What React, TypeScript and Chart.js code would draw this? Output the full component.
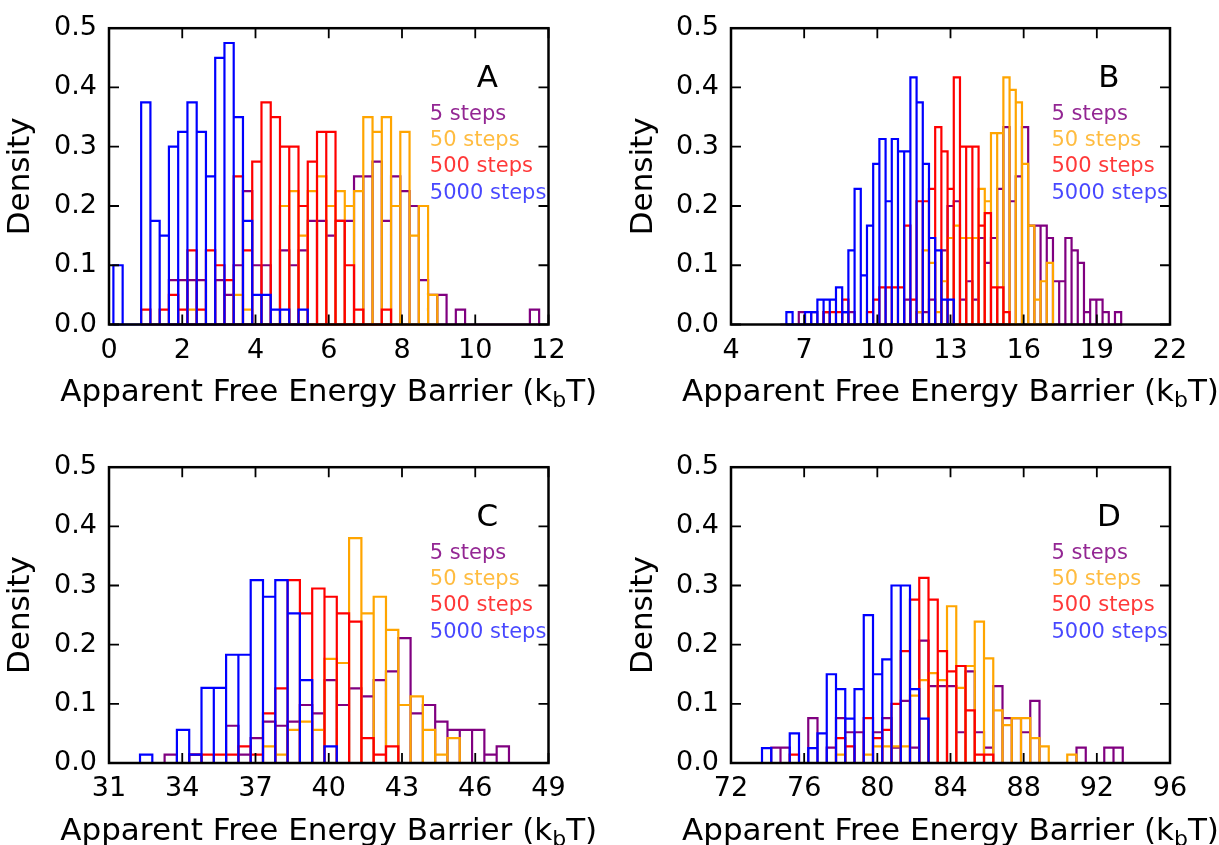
import React, { useEffect, useRef } from "react";
import { Chart, registerables } from "chart.js";

Chart.register(...registerables);

const FONT_FAMILY = "'DejaVu Sans', 'Bitstream Vera Sans', sans-serif";

const seriesNames = ["5 steps", "50 steps", "500 steps", "5000 steps"];
const seriesColors = ["#800080", "#FFA500", "#FF0000", "#0000FF"];
const legendTextColors = [
  "rgba(128,0,128,0.85)",
  "rgba(255,165,0,0.75)",
  "rgba(255,0,0,0.78)",
  "rgba(0,0,255,0.72)",
];

const yTickValues = [0, 0.1, 0.2, 0.3, 0.4, 0.5];
const xTitleMain = "Apparent Free Energy Barrier (k";
const xTitleSub = "b";
const xTitleEnd = "T)";
const yTitle = "Density";

// ---------- Panel A ----------
const panelAXTicks = [0, 2, 4, 6, 8, 10, 12];
const panelABinStart = 0.12;
const panelABinWidth = 0.2527;
const panelA5Offset = 6;
const panelA5 = [0.075, 0.075, 0.075, 0.075, 0, 0.075, 0.05, 0.1, 0.225, 0.1, 0.1, 0, 0.125, 0.1, 0.125, 0.175, 0.175, 0.15, 0.175, 0.175, 0.25, 0.25, 0.275, 0.175, 0.25, 0.225, 0.2, 0.075, 0.05, 0.05, 0, 0.025, 0, 0, 0, 0, 0, 0, 0, 0.025];
const panelA50Offset = 8;
const panelA50 = [0.025, 0, 0, 0, 0, 0.05, 0.025, 0, 0, 0, 0.2, 0.225, 0.15, 0.225, 0.25, 0.2, 0.225, 0.2, 0.225, 0.35, 0.325, 0.35, 0.2, 0.325, 0.15, 0.2, 0.05];
const panelA500Offset = 3;
const panelA500 = [0.025, 0, 0.025, 0.05, 0.025, 0.125, 0.025, 0.125, 0.1, 0.075, 0.25, 0.125, 0.275, 0.375, 0.35, 0.3, 0.3, 0.2, 0.275, 0.325, 0.325, 0.175, 0.1, 0.025, 0, 0, 0.025];
const panelA5000Offset = 0;
const panelA5000 = [0.1, 0, 0, 0.375, 0.175, 0.15, 0.3, 0.325, 0.375, 0.325, 0.25, 0.45, 0.475, 0.35, 0.175, 0.05, 0.05, 0.025, 0.025, 0, 0.025];

// ---------- Panel B ----------
const panelBXTicks = [4, 7, 10, 13, 16, 19, 22];
const panelBBinStart = 6.271;
const panelBBinWidth = 0.2542;
const panelB5Offset = -1;
const panelB5 = [0, 0, 0, 0.021, 0, 0.021, 0, 0.021, 0, 0, 0.021, 0.021, 0, 0, 0, 0, 0, 0, 0, 0, 0.042, 0, 0.021, 0.021, 0.042, 0, 0.125, 0.2, 0.208, 0.042, 0.073, 0.042, 0.146, 0.104, 0.146, 0.229, 0.333, 0.208, 0.25, 0.333, 0.167, 0.167, 0.167, 0.146, 0.073, 0.073, 0.146, 0.125, 0.104, 0.021, 0.042, 0.042, 0.021, 0, 0.021];
const panelB50Offset = 21;
const panelB50 = [0.021, 0.125, 0.104, 0.021, 0.073, 0.146, 0.167, 0.146, 0.146, 0.146, 0.229, 0.208, 0.323, 0.323, 0.417, 0.396, 0.375, 0.271, 0.167, 0.042, 0.073, 0.104];
const panelB500Offset = 6;
const panelB500 = [0.021, 0.021, 0.021, 0.042, 0, 0, 0, 0.021, 0.042, 0.0625, 0.0625, 0.0625, 0.0625, 0.167, 0.042, 0.208, 0.208, 0.229, 0.333, 0.292, 0.229, 0.417, 0.3, 0.3, 0.3, 0.167, 0.188, 0.0625, 0.0625, 0.021];
const panelB5000Offset = 0;
const panelB5000 = [0.021, 0, 0, 0.021, 0.021, 0.042, 0.042, 0.042, 0.0625, 0.021, 0.125, 0.229, 0.083, 0.167, 0.271, 0.313, 0.208, 0.313, 0.292, 0.292, 0.417, 0.375, 0.271, 0.146, 0.125, 0.042, 0.042];

// ---------- Panel C ----------
const panelCXTicks = [31, 34, 37, 40, 43, 46, 49];
const panelCBinStart = 32.27;
const panelCBinWidth = 0.5037;
const panelC5Offset = 2;
const panelC5 = [0.014, 0, 0.014, 0, 0, 0.063, 0.014, 0.042, 0.07, 0.063, 0.07, 0.098, 0.084, 0.14, 0.098, 0.126, 0.1125, 0.14, 0.155, 0.211, 0.084, 0.098, 0.07, 0.056, 0.056, 0.056, 0.014, 0.028];
const panelC50Offset = 10;
const panelC50 = [0.028, 0.014, 0.056, 0.07, 0.056, 0.176, 0.169, 0.38, 0.253, 0.281, 0.225, 0.098, 0.1125, 0.056, 0.014, 0.042];
const panelC500Offset = 4;
const panelC500 = [0.014, 0.014, 0.014, 0.014, 0.028, 0.014, 0.084, 0.126, 0.309, 0.253, 0.295, 0.281, 0.253, 0.239, 0.042, 0.014, 0.028];
const panelC5000Offset = 0;
const panelC5000 = [0.014, 0, 0, 0.056, 0.014, 0.127, 0.127, 0.183, 0.183, 0.309, 0.281, 0.309, 0.253, 0.14, 0, 0.028];

// ---------- Panel D ----------
const panelDXTicks = [72, 76, 80, 84, 88, 92, 96];
const panelDBinStart = 73.695;
const panelDBinWidth = 0.5057;
const panelD5Offset = -3;
const panelD5 = [0, 0, 0, 0, 0.026, 0.026, 0, 0, 0.076, 0, 0.026, 0.076, 0.052, 0.052, 0, 0.052, 0.076, 0.026, 0.105, 0.026, 0.207, 0.13, 0.13, 0.13, 0.052, 0.155, 0.052, 0.026, 0.13, 0.076, 0.076, 0.052, 0.105, 0, 0, 0, 0, 0.026, 0, 0, 0.026, 0.026];
const panelD50Offset = 8;
const panelD50 = [0.014, 0, 0, 0.014, 0.028, 0.028, 0.028, 0.028, 0.114, 0.14, 0.152, 0.14, 0.265, 0.127, 0.164, 0.239, 0.177, 0.089, 0.064, 0.076, 0.076, 0.042, 0.028, 0, 0, 0.014];
const panelD500Offset = 3;
const panelD500 = [0.014, 0, 0, 0, 0, 0.042, 0.028, 0, 0.076, 0.042, 0.056, 0.1, 0.189, 0.276, 0.313, 0.276, 0.189, 0.155, 0.164, 0.089, 0.014, 0.014];
const panelD5000Offset = 0;
const panelD5000 = [0.025, 0, 0, 0.05, 0, 0.025, 0.05, 0.15, 0.125, 0.075, 0.125, 0.25, 0.15, 0.175, 0.3, 0.3, 0.125, 0.075];

type Series = { offset: number; values: number[] };
type Layout = {
  left: number;
  top: number;
  width: number;
  height: number;
  areaLeft: number;
  areaTop: number;
  areaRight: number;
  areaBottom: number;
  yTitlePad: number;
};
type PanelCfg = {
  letter: string;
  xTicks: number[];
  binStart: number;
  binWidth: number;
  series: Series[];
  layout: Layout;
};

const panels: PanelCfg[] = [
  {
    letter: "A",
    xTicks: panelAXTicks,
    binStart: panelABinStart,
    binWidth: panelABinWidth,
    series: [
      { offset: panelA5Offset, values: panelA5 },
      { offset: panelA50Offset, values: panelA50 },
      { offset: panelA500Offset, values: panelA500 },
      { offset: panelA5000Offset, values: panelA5000 },
    ],
    layout: { left: 0, top: 0, width: 609, height: 422, areaLeft: 109, areaTop: 26, areaRight: 548.5, areaBottom: 324.5, yTitlePad: 3 },
  },
  {
    letter: "B",
    xTicks: panelBXTicks,
    binStart: panelBBinStart,
    binWidth: panelBBinWidth,
    series: [
      { offset: panelB5Offset, values: panelB5 },
      { offset: panelB50Offset, values: panelB50 },
      { offset: panelB500Offset, values: panelB500 },
      { offset: panelB5000Offset, values: panelB5000 },
    ],
    layout: { left: 609, top: 0, width: 610, height: 422, areaLeft: 122, areaTop: 26, areaRight: 561, areaBottom: 324.5, yTitlePad: 17 },
  },
  {
    letter: "C",
    xTicks: panelCXTicks,
    binStart: panelCBinStart,
    binWidth: panelCBinWidth,
    series: [
      { offset: panelC5Offset, values: panelC5 },
      { offset: panelC50Offset, values: panelC50 },
      { offset: panelC500Offset, values: panelC500 },
      { offset: panelC5000Offset, values: panelC5000 },
    ],
    layout: { left: 0, top: 439, width: 609, height: 406, areaLeft: 109, areaTop: 25.5, areaRight: 548.5, areaBottom: 324, yTitlePad: 3 },
  },
  {
    letter: "D",
    xTicks: panelDXTicks,
    binStart: panelDBinStart,
    binWidth: panelDBinWidth,
    series: [
      { offset: panelD5Offset, values: panelD5 },
      { offset: panelD50Offset, values: panelD50 },
      { offset: panelD500Offset, values: panelD500 },
      { offset: panelD5000Offset, values: panelD5000 },
    ],
    layout: { left: 609, top: 439, width: 610, height: 406, areaLeft: 122, areaTop: 25.5, areaRight: 561, areaBottom: 324, yTitlePad: 17 },
  },
];

// Outline of each histogram bin (unfilled rectangle) traced as one path
function binOutline(start: number, width: number, s: Series) {
  const pts: { x: number; y: number }[] = [];
  s.values.forEach((h, i) => {
    const l = start + (s.offset + i) * width;
    const r = l + width;
    pts.push({ x: l, y: 0 }, { x: l, y: h }, { x: r, y: h }, { x: r, y: 0 }, { x: l, y: 0 }, { x: r, y: 0 });
  });
  return pts;
}

function makeDecorPlugin(cfg: PanelCfg) {
  return {
    id: "decor" + cfg.letter,
    afterDatasetsDraw(chart: any) {
      const { ctx, chartArea: a, scales } = chart;
      ctx.save();
      ctx.strokeStyle = "#000";
      ctx.lineWidth = 2.5;
      ctx.strokeRect(a.left, a.top, a.right - a.left, a.bottom - a.top);
      ctx.lineWidth = 1.8;
      ctx.beginPath();
      const tl = 10;
      cfg.xTicks.forEach((v) => {
        const px = scales.x.getPixelForValue(v);
        ctx.moveTo(px, a.bottom);
        ctx.lineTo(px, a.bottom - tl);
        ctx.moveTo(px, a.top);
        ctx.lineTo(px, a.top + tl);
      });
      yTickValues.forEach((v) => {
        const py = scales.y.getPixelForValue(v);
        ctx.moveTo(a.left, py);
        ctx.lineTo(a.left + tl, py);
        ctx.moveTo(a.right, py);
        ctx.lineTo(a.right - tl, py);
      });
      ctx.stroke();
      ctx.restore();
    },
    afterDraw(chart: any) {
      const { ctx, chartArea: a } = chart;
      const W = a.right - a.left;
      const H = a.bottom - a.top;
      ctx.save();
      // panel letter
      ctx.fillStyle = "#000";
      ctx.font = `31px ${FONT_FAMILY}`;
      ctx.textAlign = "center";
      ctx.textBaseline = "alphabetic";
      ctx.fillText(cfg.letter, a.left + 0.861 * W, a.top + 0.2 * H);
      // legend texts
      ctx.font = `21px ${FONT_FAMILY}`;
      ctx.textAlign = "left";
      const rows = [0.309, 0.398, 0.487, 0.577];
      seriesNames.forEach((name, i) => {
        ctx.fillStyle = legendTextColors[i];
        ctx.fillText(name, a.left + 0.73 * W, a.top + rows[i] * H);
      });
      // x axis title with subscript
      ctx.fillStyle = "#000";
      const mainFont = `31px ${FONT_FAMILY}`;
      const subFont = `22px ${FONT_FAMILY}`;
      ctx.font = mainFont;
      const w1 = ctx.measureText(xTitleMain).width;
      const w3 = ctx.measureText(xTitleEnd).width;
      ctx.font = subFont;
      const w2 = ctx.measureText(xTitleSub).width;
      let x = (a.left + a.right) / 2 - (w1 + w2 + w3) / 2;
      const y = a.bottom + 76.5;
      ctx.font = mainFont;
      ctx.fillText(xTitleMain, x, y);
      x += w1;
      ctx.font = subFont;
      ctx.fillText(xTitleSub, x, y + 6);
      x += w2;
      ctx.font = mainFont;
      ctx.fillText(xTitleEnd, x, y);
      ctx.restore();
    },
  };
}

function PanelChart({ cfg }: { cfg: PanelCfg }) {
  const ref = useRef<HTMLCanvasElement | null>(null);
  useEffect(() => {
    if (!ref.current) return;
    const L = cfg.layout;
    const xMin = cfg.xTicks[0];
    const xMax = cfg.xTicks[cfg.xTicks.length - 1];
    const chart = new Chart(ref.current, {
      type: "line",
      data: {
        datasets: cfg.series.map((s, i) => ({
          label: seriesNames[i],
          data: binOutline(cfg.binStart, cfg.binWidth, s),
          borderColor: seriesColors[i],
          backgroundColor: "transparent",
          borderWidth: 2.2,
          pointRadius: 0,
          pointHoverRadius: 0,
          fill: false,
          tension: 0,
          order: 3 - i,
          clip: 6,
          borderJoinStyle: "miter",
          borderCapStyle: "butt",
        })) as any,
      },
      options: {
        animation: false,
        responsive: false,
        maintainAspectRatio: false,
        devicePixelRatio: 1,
        events: [],
        layout: { padding: { left: 0, top: L.areaTop, right: L.width - L.areaRight, bottom: 0 } },
        plugins: { legend: { display: false }, tooltip: { enabled: false }, title: { display: false } },
        scales: {
          x: {
            type: "linear",
            min: xMin,
            max: xMax,
            grid: { display: false, drawTicks: false },
            border: { display: false },
            ticks: {
              font: { family: FONT_FAMILY, size: 27 },
              color: "#000",
              padding: 10,
              maxRotation: 0,
              minRotation: 0,
              autoSkip: false,
              callback: (v: any) => String(v),
            },
            afterBuildTicks: (axis: any) => {
              axis.ticks = cfg.xTicks.map((v) => ({ value: v }));
            },
            afterFit: (axis: any) => {
              axis.height = L.height - L.areaBottom;
            },
          },
          y: {
            type: "linear",
            min: 0,
            max: 0.5,
            grid: { display: false, drawTicks: false },
            border: { display: false },
            ticks: {
              font: { family: FONT_FAMILY, size: 27 },
              color: "#000",
              padding: 12,
              autoSkip: false,
              callback: (v: any) => Number(v).toFixed(1),
            },
            afterBuildTicks: (axis: any) => {
              axis.ticks = yTickValues.map((v) => ({ value: v }));
            },
            afterFit: (axis: any) => {
              axis.width = L.areaLeft;
            },
            title: {
              display: true,
              text: yTitle,
              color: "#000",
              font: { family: FONT_FAMILY, size: 31, lineHeight: 1.2 },
              padding: { top: L.yTitlePad - 1, bottom: 0 },
            },
          },
        },
      } as any,
      plugins: [makeDecorPlugin(cfg)],
    });
    return () => chart.destroy();
  }, [cfg]);
  const L = cfg.layout;
  return (
    <canvas
      ref={ref}
      width={L.width}
      height={L.height}
      style={{ position: "absolute", left: L.left, top: L.top, width: L.width, height: L.height }}
    />
  );
}

export default function App() {
  return (
    <div
      style={{
        position: "absolute",
        left: 0,
        top: 0,
        width: 1219,
        height: 845,
        background: "#ffffff",
        overflow: "hidden",
      }}
    >
      {panels.map((p) => (
        <PanelChart key={p.letter} cfg={p} />
      ))}
    </div>
  );
}
